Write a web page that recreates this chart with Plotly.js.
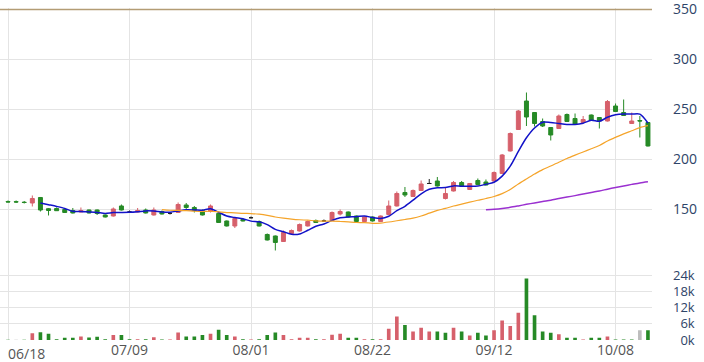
<!DOCTYPE html>
<html>
<head>
<meta charset="utf-8">
<script src="https://cdn.plot.ly/plotly-3.0.1.min.js"></script>
<style>html,body{margin:0;padding:0;background:#fff;}#chart{width:704px;height:362px;}</style>
</head>
<body>
<div id="chart"></div>
<script>
const dates = ['06/18','06/19','06/20','06/21','06/22','06/25','06/26','06/27','06/28','06/29',
  '07/02','07/03','07/04','07/05','07/06','07/09','07/10','07/11','07/12','07/13',
  '07/17','07/18','07/19','07/20','07/23','07/24','07/25','07/26','07/27','07/31',
  '08/01','08/02','08/03','08/06','08/07','08/08','08/09','08/10','08/13','08/14',
  '08/15','08/16','08/17','08/20','08/21','08/22','08/23','08/24','08/27','08/28',
  '08/29','08/30','08/31','09/03','09/04','09/05','09/06','09/07','09/10','09/11',
  '09/12','09/13','09/14','09/17','09/18','09/19','09/20','09/21','09/27','09/28',
  '10/01','10/02','10/03','10/04','10/05','10/08','10/10','10/11','10/12','10/15'];

const openP = [158,157.8,157.3,156.5,162,150.8,151,150,149,147.5,
  149.5,149.5,144.5,143.5,153.5,147.5,147.5,149.5,144.5,148,
  146.2,147,154.5,152,149,148,146,138.5,133.5,140,
  141.8,138,125,123.5,118,126,128.5,133.5,139,138.5,
  139,145.5,147.5,143.5,138,142.5,138,145,153.5,167,
  163,169,176,178.5,161,168.5,177,170,179,177.5,
  178.5,186,208.5,230,258.5,247,238,232,231,245,
  241,237,244.5,242,238.5,253.5,247,236,239,237];
const highP = [159,159,158.5,164,162.5,151.5,152,151,151.5,152,
  150,150,145,152,155,149,151.5,151,152,149,
  147.5,157,156.5,153.5,150,155,147,139,142,141,
  143,139,126,124,129,130,136,139,140,140,
  148,150,148,144,143,143,144,159,168,172.5,
  170,179,180.5,182.5,172.5,178.5,178.5,176.5,181,180,
  188,205.5,227,249.5,267,247.5,241,232.5,245,246,
  246,243.5,245,242.5,259.5,256,260,247,243.5,237];
const lowP = [157,156.5,156,153,148,144,148.5,146.5,146,147,
  146,144.5,142,143,149,146.5,147,146,144,145,
  145,146.5,150.5,147,144,147,136.5,133,131.5,138,
  141,133,119,109,117.5,125,128,133,136.5,137.5,
  138.5,144,142,137.5,137.5,138,137.5,145,153,162.5,
  162.5,168.5,175.5,173,160,168,173,169.5,174.5,174,
  178,185.5,208,229.5,233.5,233,232.5,219,230.5,237.5,
  235,236.5,238.5,231,238,247.5,243.5,235.5,222,213];
const closeP = [157.5,157.5,157,161,149.5,149,148.8,147,146.5,149,
  146.5,146,142.5,150.5,149.5,147.5,149,146.5,149.5,145.5,
  146.2,155,152,149,144.5,153.5,137,133.5,141,138.5,
  141.8,133.5,119.5,117,127,129,135,138,137,138.5,
  147,148,142.5,138,142.5,138.5,143.5,153.5,166,164.5,
  169,175.5,176,173.5,166,177,173.5,176,175,174.5,
  187,204.5,226,248.5,242.5,236,233.5,224.5,243.5,238,
  235.5,240,239,238.5,258,248,244,238.5,238.5,213.5];
const volume = [100,100,100,2500,2900,2300,300,800,800,1300,
  900,1200,300,1900,1900,300,300,300,1000,200,
  200,2800,1300,1300,1900,2300,3800,1900,1300,300,
  200,300,1900,2800,1900,300,800,800,300,300,
  2000,2300,800,800,300,300,300,4200,8800,5600,
  3200,4600,3200,3200,2700,4600,3200,1700,2700,1700,
  3600,7300,5200,10200,22900,9200,3200,2700,2100,800,
  800,200,800,800,1300,200,200,200,3600,3600];

const xTickDates = ['06/18','07/09','08/01','08/22','09/12','10/08'];
const xTickLabels = ['06/18','07/09','08/01','08/22','09/12','10/08'];
const priceTicks = [150,200,250,300,350];
const volTicks = [0,6000,12000,18000,24000];
const volTickLabels = ['0k','6k','12k','18k','24k'];
const maPeriods = [5,20,60];
const limitLine = 350;

const UP = '#d6606b', DOWN = '#268a26', FLAT = '#222222', GRAY = '#bdbdbd';
const maColors = ['#1212c8','#f5a42a','#9a30d0'];
const maWidths = [1.5,1.2,1.5];

function pick(arr, idx){ return idx.map(i => arr[i]); }
const idxUp = [], idxDown = [], idxFlat = [];
closeP.forEach((c,i) => { if (c > openP[i]) idxUp.push(i); else if (c < openP[i]) idxDown.push(i); else idxFlat.push(i); });

function candle(idx, col){
  return {type:'candlestick', x: pick(dates,idx), open: pick(openP,idx), high: pick(highP,idx),
    low: pick(lowP,idx), close: pick(closeP,idx), xaxis:'x', yaxis:'y',
    increasing:{line:{color:col,width:1}, fillcolor:col},
    decreasing:{line:{color:col,width:1}, fillcolor:col},
    whiskerwidth:0, showlegend:false, hoverinfo:'skip'};
}

function sma(n){
  return closeP.map((c,i) => {
    if (i < n-1) return null;
    let s = 0; for (let k=i-n+1;k<=i;k++) s += closeP[k];
    return s/n;
  });
}

const volColors = closeP.map((c,i) => {
  const ref = i === 0 ? openP[0] : closeP[i-1];
  return c > ref ? UP : (c < ref ? DOWN : GRAY);
});

const traces = [
  {type:'bar', x: dates, y: volume, xaxis:'x', yaxis:'y2', marker:{color: volColors}, showlegend:false, hoverinfo:'skip'},
  candle(idxUp, UP), candle(idxDown, DOWN), candle(idxFlat, FLAT)
];
maPeriods.forEach((n,k) => {
  traces.push({type:'scatter', mode:'lines', x: dates, y: sma(n), xaxis:'x', yaxis:'y',
    line:{color: maColors[k], width: maWidths[k], shape:'spline', smoothing:0.8},
    connectgaps:false, showlegend:false, hoverinfo:'skip'});
});

const gridC = '#e4e4e4';
const layout = {
  width:704, height:362,
  margin:{l:0, r:52, t:8, b:22},
  paper_bgcolor:'#fff', plot_bgcolor:'#fff',
  font:{family:'Open Sans, Verdana, sans-serif', size:14, color:'#2e4468'},
  showlegend:false, hovermode:false, bargap:0.55,
  xaxis:{type:'category', anchor:'y2', range:[-0.99,79.5], rangeslider:{visible:false},
    tickmode:'array', tickvals: xTickDates, ticktext: xTickLabels.map((t,i)=> i===0 ? '' : t),
    showgrid:true, gridcolor:gridC, gridwidth:1, ticks:'', showline:false, zeroline:false,
    tickfont:{color:'#555555', size:14}},
  yaxis:{domain:[0.2425,1], range:[100,351.5], side:'right', tickmode:'array', tickvals: priceTicks,
    showgrid:true, gridcolor:gridC, gridwidth:1, zeroline:false, ticks:'', ticklabelstandoff:20,
    ticklabeloverflow:'allow', tickfont:{color:'#2e4468', size:14}},
  yaxis2:{domain:[0,0.2425], range:[0,30000], side:'right', tickmode:'array',
    tickvals: volTicks.concat([30000]), ticktext: volTickLabels.map(t => t.length < 3 ? '\u2007'+t : t).concat(['']),
    showgrid:true, gridcolor:gridC, gridwidth:1, zeroline:false, ticks:'', ticklabelstandoff:20,
    ticklabeloverflow:'allow', tickfont:{color:'#2e4468', size:13}},
  shapes:[{type:'line', xref:'paper', x0:0, x1:1, yref:'y', y0:limitLine, y1:limitLine,
    line:{color:'#b39c74', width:1.5}}],
  annotations:[{xref:'x', x: xTickDates[0], yref:'paper', y:0, yanchor:'top', xanchor:'left',
    xshift:-2, yshift:-2, text: xTickLabels[0], showarrow:false, font:{color:'#555555', size:14}}]
};

Plotly.newPlot('chart', traces, layout, {staticPlot:true, displayModeBar:false});
</script>
</body>
</html>
